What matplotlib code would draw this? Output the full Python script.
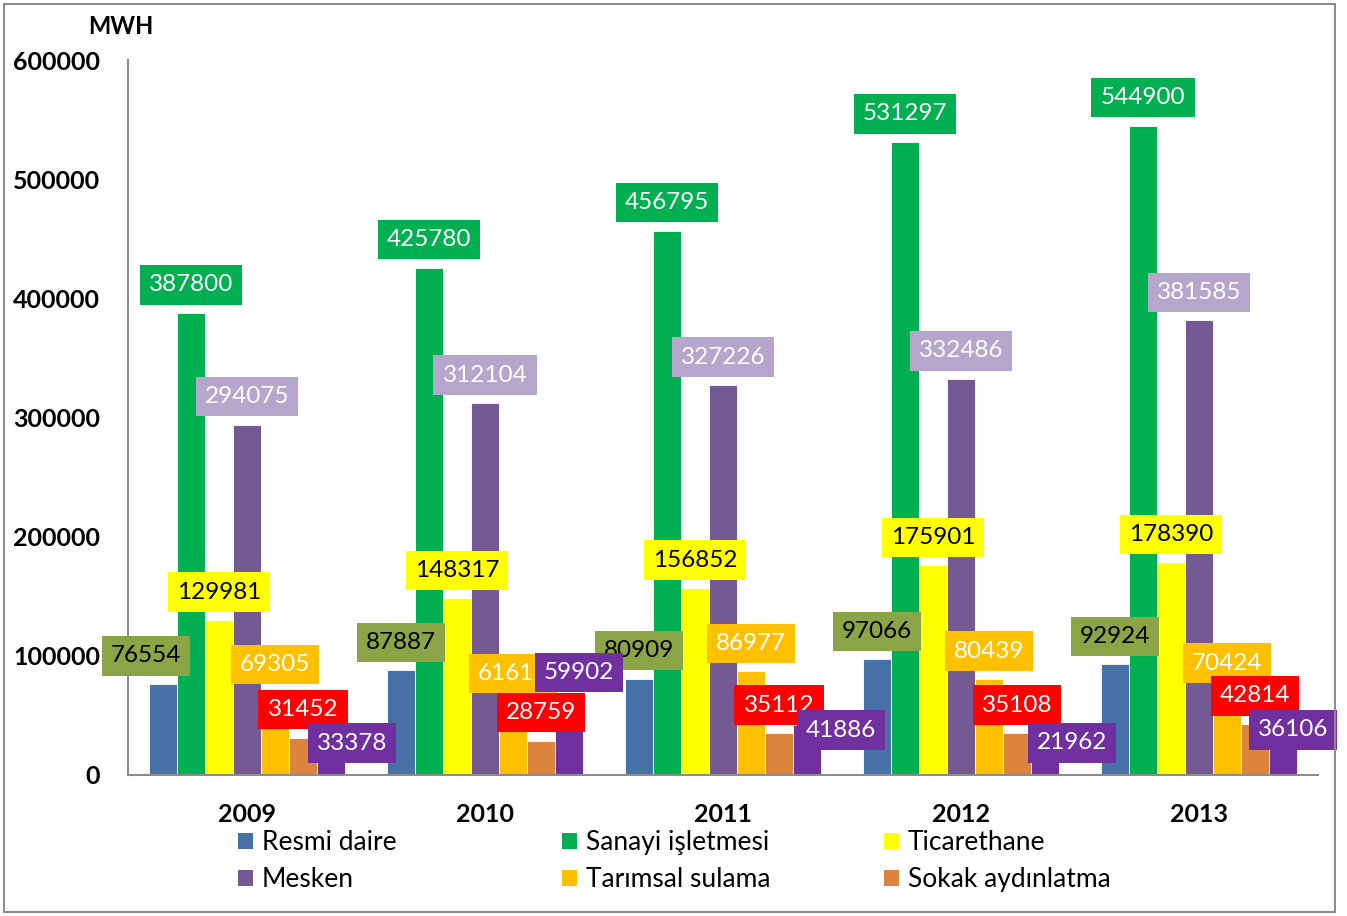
import matplotlib
matplotlib.use("Agg")
import matplotlib.pyplot as plt
import numpy as np
from matplotlib.patches import Rectangle, Patch

# ---------------- data ----------------
years = ["2009", "2010", "2011", "2012", "2013"]
resmi_daire = [76554, 87887, 80909, 97066, 92924]
sanayi_isletmesi = [387800, 425780, 456795, 531297, 544900]
ticarethane = [129981, 148317, 156852, 175901, 178390]
mesken = [294075, 312104, 327226, 332486, 381585]
tarimsal_sulama = [69305, 61612, 86977, 80439, 70424]
sokak_aydinlatma = [31452, 28759, 35112, 35108, 42814]
diger = [33378, 59902, 41886, 21962, 36106]

series_names = ["Resmi daire", "Sanayi işletmesi", "Ticarethane", "Mesken",
                "Tarımsal sulama", "Sokak aydınlatma", "Diğer"]
series_values = [resmi_daire, sanayi_isletmesi, ticarethane, mesken,
                 tarimsal_sulama, sokak_aydinlatma, diger]
yticks = [0, 100000, 200000, 300000, 400000, 500000, 600000]

# ---------------- style ----------------
bar_colors = ["#4672A8", "#00B050", "#FFFF00", "#735A92", "#FFC000", "#DB843D", "#7030A0"]
label_box = ["#8BA446", "#00B050", "#FFFF00", "#B7A6CB", "#FFC000", "#FF0000", "#7030A0"]
label_txt = ["black", "white", "black", "white", "white", "white", "white"]

# label nudges in pixels (dx, dy above bar top); default (0, 28)
nudges = {
    (0, 0): (-17, 28),
    (6, 0): (21, -8),
    (6, 1): (10, 31),
    (6, 2): (34, -5),
    (6, 3): (27, 6),
    (6, 4): (10, 2),
}

W, H, DPI = 1347, 916, 100
PX2PT = 72.0 / DPI
FONT = ["Lato", "DejaVu Sans"]
plt.rcParams["font.family"] = FONT

fig = plt.figure(figsize=(W / DPI, H / DPI), dpi=DPI)
fig.patch.set_facecolor("white")

ax_l, ax_r, ax_t, ax_b = 128, 1318, 60, 775
ax = fig.add_axes([ax_l / W, 1 - ax_b / H, (ax_r - ax_l) / W, (ax_b - ax_t) / H])

ngroups = len(years)
group_px = (ax_r - ax_l) / ngroups
bw = 28 / group_px
centers = np.arange(ngroups) + 0.5

for j, (name, vals) in enumerate(zip(series_names, series_values)):
    xs = centers + (j - 3) * bw
    ax.bar(xs, vals, width=bw, color=bar_colors[j], edgecolor="white",
           linewidth=0.6, zorder=2, label=name)

for j, vals in enumerate(series_values):
    xs = centers + (j - 3) * bw
    for i, (x, v) in enumerate(zip(xs, vals)):
        dx, dy = nudges.get((j, i), (0, 28))
        ax.annotate(f"{v}", xy=(x, v), xytext=(dx * PX2PT, dy * PX2PT),
                    textcoords="offset points", ha="center", va="center",
                    fontsize=17.5, color=label_txt[j], zorder=5 + j,
                    bbox=dict(boxstyle="square,pad=0.38", fc=label_box[j], ec="none"),
                    annotation_clip=False)

ax.set_xlim(0, ngroups)
ax.set_ylim(0, 600000)
ax.set_xticks(centers)
ax.set_xticklabels(years, fontsize=18, fontweight="bold")
ax.set_yticks(yticks)
ax.set_yticklabels([str(t) for t in yticks], fontsize=18, fontweight="bold")
ax.tick_params(axis="x", length=0, pad=20)
ax.tick_params(axis="y", length=0, pad=20)
for s in ["top", "right"]:
    ax.spines[s].set_visible(False)
for s in ["left", "bottom"]:
    ax.spines[s].set_color("#8C8C8C")
    ax.spines[s].set_linewidth(1.5)
ax.set_facecolor("white")

fig.text(121 / W, 1 - 27 / H, "MWH", fontsize=17, fontweight="bold",
         ha="center", va="center")

# legend: three columns
cols = [(0, 3, 238), (1, 4, 562), (2, 5, 884)]
for a, b, xpx in cols:
    handles = [Patch(facecolor=bar_colors[a]), Patch(facecolor=bar_colors[b])]
    labels = [series_names[a], series_names[b]]
    fig.legend(handles, labels, loc="center left",
               bbox_to_anchor=(xpx / W, 1 - 861 / H),
               frameon=False, fontsize=19, handlelength=0.55, handleheight=0.55,
               handletextpad=0.35, labelspacing=0.45, borderpad=0, borderaxespad=0)

fig.patches.append(Rectangle((4 / W, 1 - 912 / H), (1335 - 4) / W, (912 - 4) / H,
                             transform=fig.transFigure, fill=False,
                             edgecolor="#8C8C8C", linewidth=1.5))

fig.savefig("out.png", dpi=DPI, facecolor="white")
